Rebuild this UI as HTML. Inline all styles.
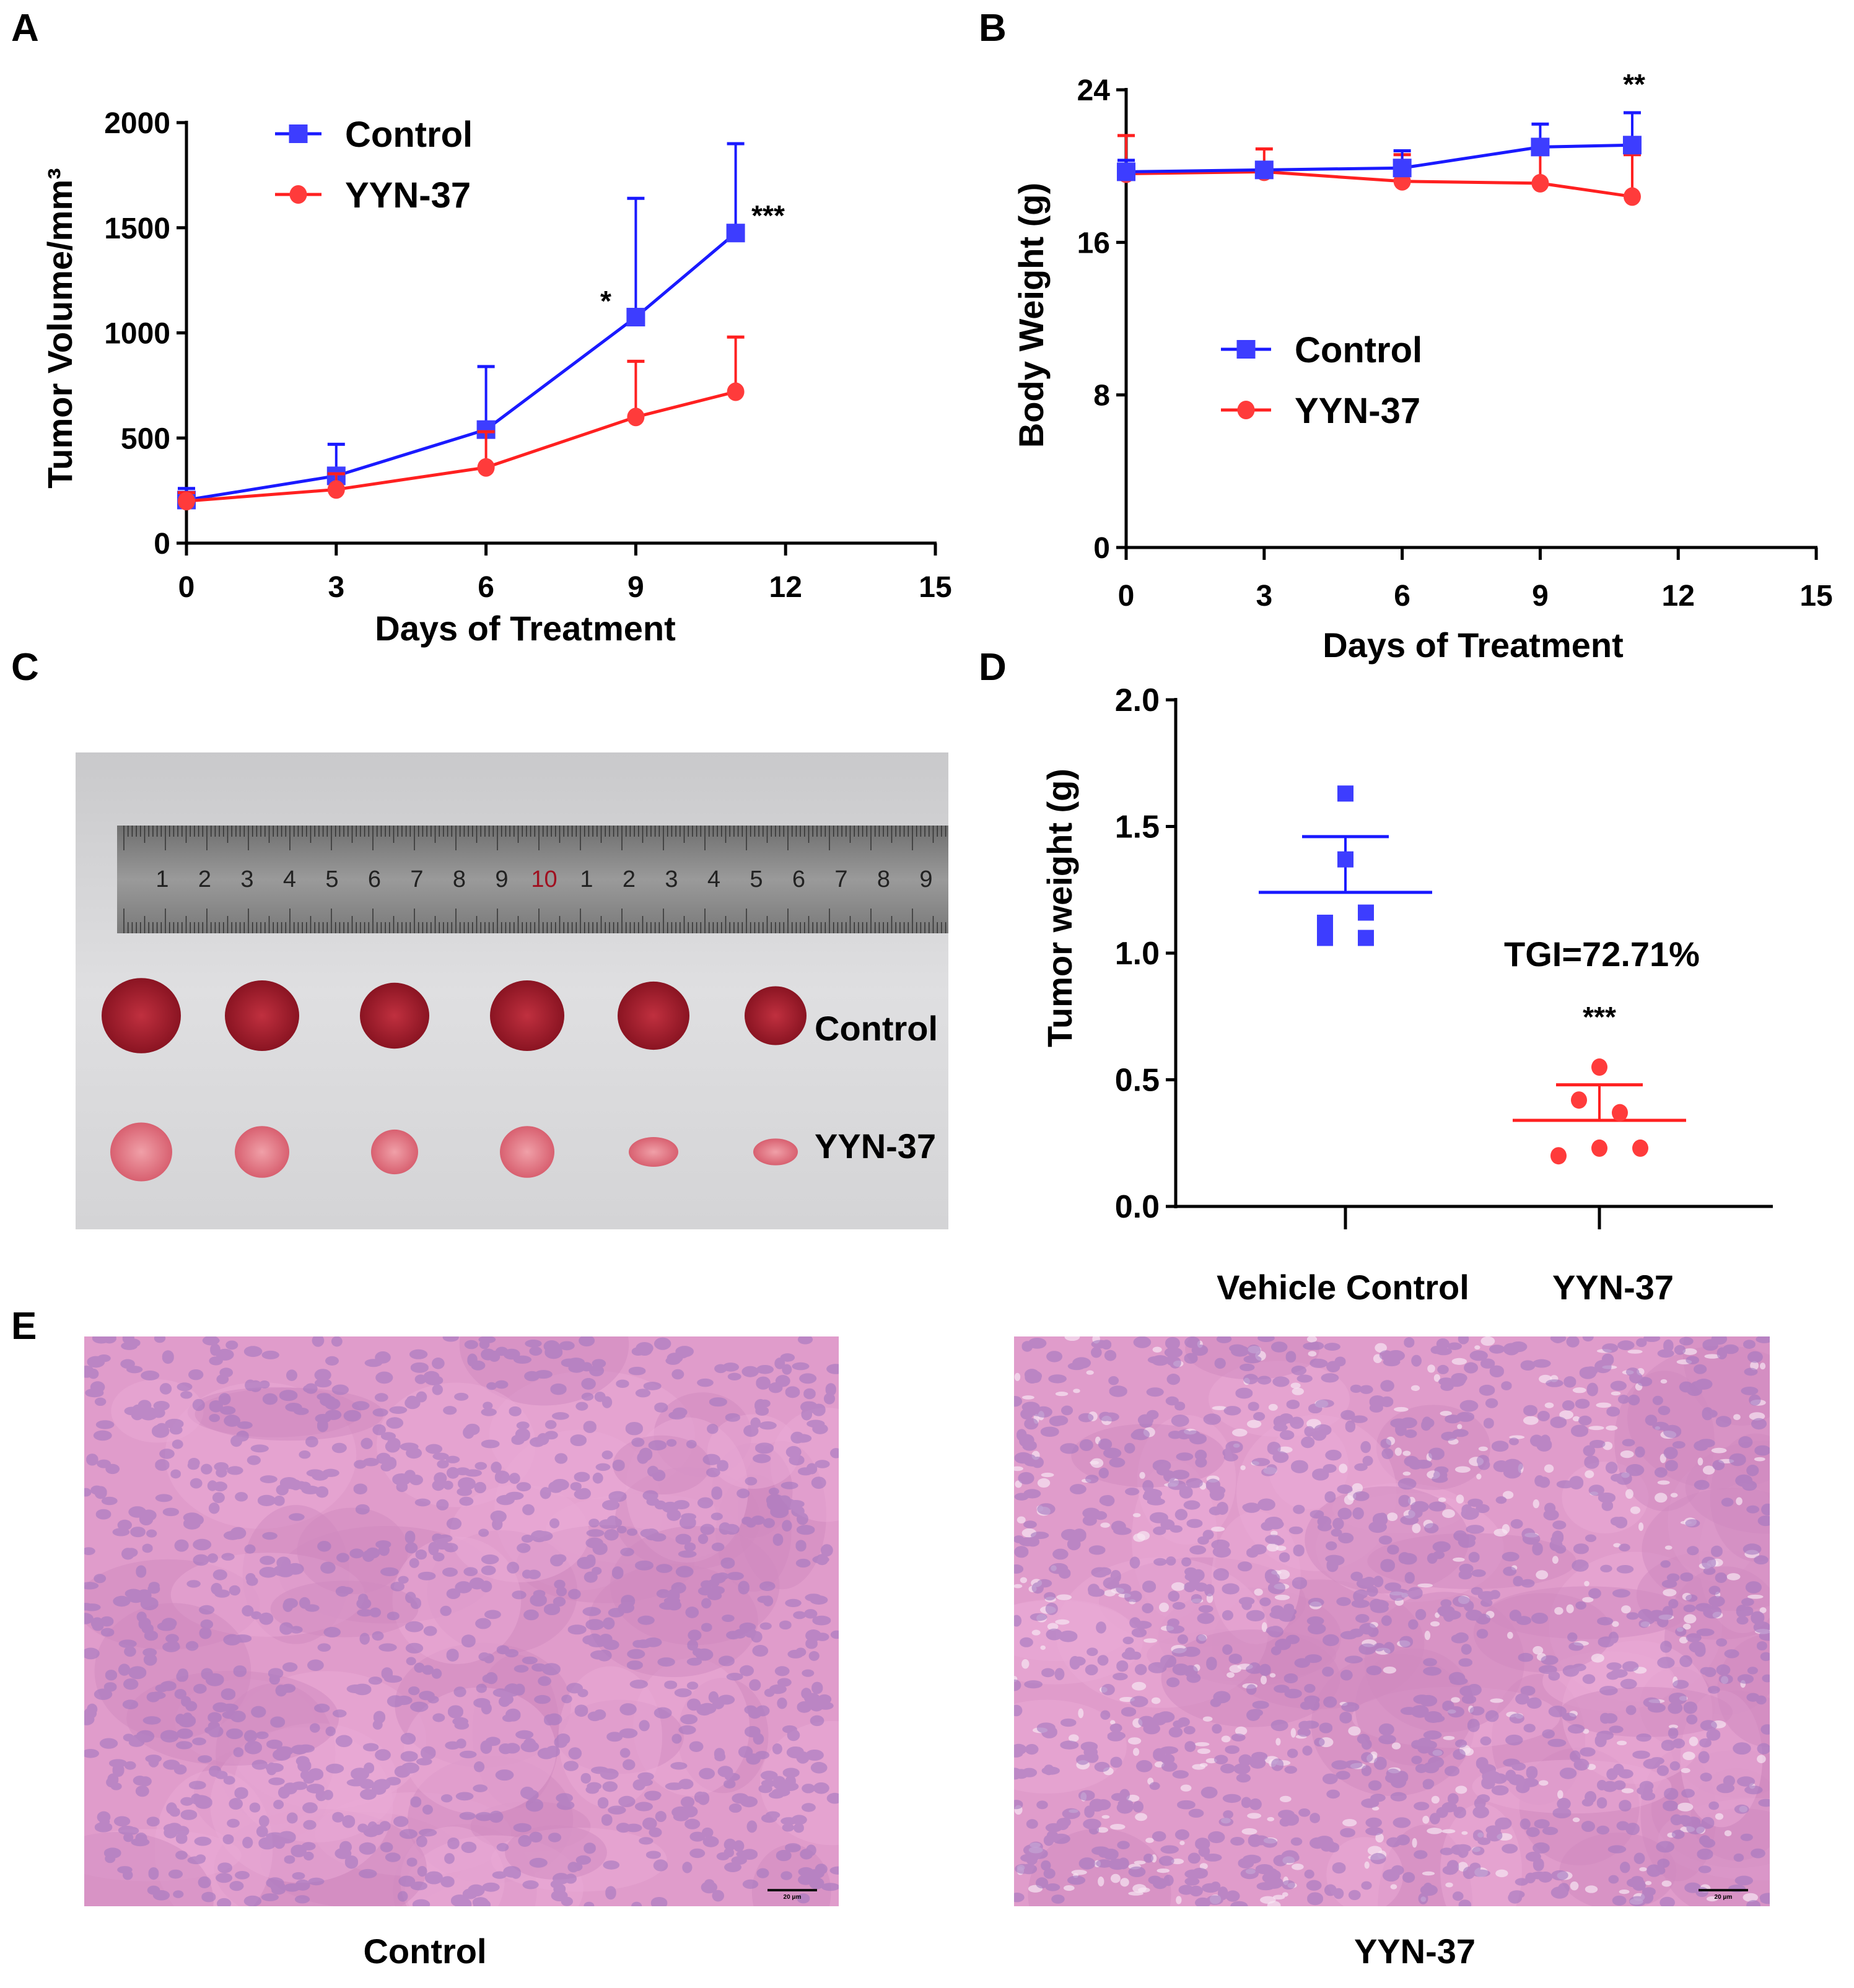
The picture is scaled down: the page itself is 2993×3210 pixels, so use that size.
<!DOCTYPE html>
<html><head><meta charset="utf-8"><style>
html,body{margin:0;padding:0;background:#fff}
svg{display:block}
text{font-family:"Liberation Sans",Arial,sans-serif;font-weight:bold}
</style></head><body>
<svg id="fig" xmlns="http://www.w3.org/2000/svg" width="2993" height="3210" viewBox="0 0 2993 3210">
<defs>
<linearGradient id="photoBg" x1="0" y1="0" x2="0" y2="1"><stop offset="0" stop-color="#c9c9cb"/><stop offset="0.5" stop-color="#dfdfe1"/><stop offset="1" stop-color="#d4d4d6"/></linearGradient>
<linearGradient id="rulerG" x1="0" y1="0" x2="0" y2="1"><stop offset="0" stop-color="#6f6f6f"/><stop offset="0.5" stop-color="#9a9a9a"/><stop offset="1" stop-color="#7a7a7a"/></linearGradient>
<radialGradient id="tumC"><stop offset="0" stop-color="#c0303f"/><stop offset="1" stop-color="#8a1422"/></radialGradient>
<radialGradient id="tumY"><stop offset="0" stop-color="#f0a0a8"/><stop offset="1" stop-color="#d86070"/></radialGradient>
<clipPath id="clipL"><rect x="136" y="2158" width="1218" height="920"/></clipPath>
<clipPath id="clipR"><rect x="1637" y="2158" width="1220" height="920"/></clipPath>
<clipPath id="clipC"><rect x="122" y="1215" width="1409" height="770"/></clipPath>
</defs>
<g id="letters" font-size="62">
<text x="18" y="66">A</text>
<text x="1580" y="66">B</text>
<text x="18" y="1098">C</text>
<text x="1580" y="1098">D</text>
<text x="18" y="2162">E</text>
</g>
<g id="panelA"></g>
<g id="panelB"></g>
<g id="panelC" clip-path="url(#clipC)"></g>
<g id="panelD"></g>
<g id="panelE"></g>
</svg>
<script>
// ---- data ----
const daysA = [0, 3, 6, 9, 11];
const volControl = [205, 320, 540, 1075, 1475];
const volControlErr = [55, 150, 300, 565, 425];
const volYYN = [200, 255, 360, 600, 720];
const volYYNErr = [40, 75, 170, 265, 260];
const volYTicks = [0, 500, 1000, 1500, 2000];
const dayTicks = [0, 3, 6, 9, 12, 15];
const daysB = [0, 3, 6, 9, 11];
const bwControl = [19.7, 19.8, 19.9, 21.0, 21.1];
const bwControlErr = [0.6, 0.3, 0.9, 1.2, 1.7];
const bwYYN = [19.6, 19.7, 19.2, 19.1, 18.4];
const bwYYNErr = [2.0, 1.2, 1.4, 2.0, 2.2];
const bwYTicks = [0, 8, 16, 24];
const twCategories = ["Vehicle Control", "YYN-37"];
const twControl = [1.63, 1.37, 1.16, 1.12, 1.06, 1.06];
const twYYN = [0.55, 0.42, 0.37, 0.23, 0.23, 0.20];
const twMeans = [1.24, 0.34];
const twSEM = [0.22, 0.14];
const twYTicks = [0.0, 0.5, 1.0, 1.5, 2.0];

const NS = "http://www.w3.org/2000/svg";
function mk(parent, tag, attrs, txt) {
  const e = document.createElementNS(NS, tag);
  for (const k in attrs) e.setAttribute(k, attrs[k]);
  if (txt !== undefined) e.textContent = txt;
  parent.appendChild(e);
  return e;
}
const BLUE = "#1a1aff", BLUEM = "#3d3dff", RED = "#ff2020", REDM = "#ff3b3b";
const TICKFS = 48;

// ---- Panel A ----
const A = document.getElementById("panelA");
const xA = d => 301 + d * 80.6;
const yA = v => 877 - v * (679 / 2000);
let el;
el = mk(A, "line", {x1: 301, y1: 195, x2: 301, y2: 880, stroke: "#000", "stroke-width": 5});


el = mk(A, "line", {x1: 298, y1: 877, x2: 1512, y2: 877, stroke: "#000", "stroke-width": 5});


volYTicks.forEach(v => {
  mk(A, "line", {x1: 285, y1: yA(v), x2: 301, y2: yA(v), stroke: "#000", "stroke-width": 5});
  el = mk(A, "text", {x: 275, y: yA(v) + 17, "font-size": TICKFS, "text-anchor": "end"}, v);
  
  
});
dayTicks.forEach(d => {
  mk(A, "line", {x1: xA(d), y1: 877, x2: xA(d), y2: 897, stroke: "#000", "stroke-width": 5});
  el = mk(A, "text", {x: xA(d), y: 964, "font-size": TICKFS, "text-anchor": "middle"}, d);
  
  
});
el = mk(A, "text", {x: 848, y: 1034, "font-size": 56, "text-anchor": "middle"}, "Days of Treatment");


el = mk(A, "text", {x: 0, y: 0, "font-size": 56, "text-anchor": "middle", transform: "translate(116,530) rotate(-90)"}, "Tumor Volume/mm³");



function series(g, xs, ys, errs, xf, yf, color, mcolor, shape, name) {
  const sg = mk(g, "g", {});
  
  
  xs.forEach((d, i) => {
    const x = xf(d), y = yf(ys[i]), yt = yf(ys[i] + errs[i]);
    mk(sg, "line", {x1: x, y1: y, x2: x, y2: yt, stroke: color, "stroke-width": 4});
    mk(sg, "line", {x1: x - 14, y1: yt, x2: x + 14, y2: yt, stroke: color, "stroke-width": 5});
  });
  mk(sg, "polyline", {points: xs.map((d, i) => xf(d) + "," + yf(ys[i])).join(" "), fill: "none", stroke: color, "stroke-width": 5});
  xs.forEach((d, i) => {
    const x = xf(d), y = yf(ys[i]);
    if (shape === "sq") mk(sg, "rect", {x: x - 15, y: y - 15, width: 30, height: 30, fill: mcolor});
    else mk(sg, "ellipse", {cx: x, cy: y, rx: 14, ry: 15, fill: mcolor});
  });
}
series(A, daysA, volControl, volControlErr, xA, yA, BLUE, BLUEM, "sq", "series-control-volume");
series(A, daysA, volYYN, volYYNErr, xA, yA, RED, REDM, "ci", "series-yyn37-volume");
function legend(g, x1, x2, y, color, mcolor, shape, label, name) {
  const lg = mk(g, "g", {});
  
  
  mk(lg, "line", {x1: x1, y1: y, x2: x2, y2: y, stroke: color, "stroke-width": 5});
  const cx = (x1 + x2) / 2;
  if (shape === "sq") mk(lg, "rect", {x: cx - 15, y: y - 15, width: 30, height: 30, fill: mcolor});
  else mk(lg, "ellipse", {cx: cx, cy: y, rx: 14, ry: 15, fill: mcolor});
  mk(lg, "text", {x: x2 + 38, y: y + 21, "font-size": 58}, label);
}
legend(A, 444, 519, 216, BLUE, BLUEM, "sq", "Control", "legend-control-a");
legend(A, 444, 519, 314, RED, REDM, "ci", "YYN-37", "legend-yyn37-a");
el = mk(A, "text", {x: 978, y: 502, "font-size": 46, "text-anchor": "middle"}, "*");


el = mk(A, "text", {x: 1240, y: 364, "font-size": 46, "text-anchor": "middle"}, "***");



// ---- Panel B ----
const B = document.getElementById("panelB");
const xB = d => 1818 + d * 74.27;
const yB = v => 884 - v * (739 / 24);
el = mk(B, "line", {x1: 1818, y1: 142, x2: 1818, y2: 887, stroke: "#000", "stroke-width": 5});


el = mk(B, "line", {x1: 1815, y1: 884, x2: 2934, y2: 884, stroke: "#000", "stroke-width": 5});


bwYTicks.forEach(v => {
  mk(B, "line", {x1: 1802, y1: yB(v), x2: 1818, y2: yB(v), stroke: "#000", "stroke-width": 5});
  el = mk(B, "text", {x: 1792, y: yB(v) + 17, "font-size": TICKFS, "text-anchor": "end"}, v);
  
  
});
dayTicks.forEach(d => {
  mk(B, "line", {x1: xB(d), y1: 884, x2: xB(d), y2: 904, stroke: "#000", "stroke-width": 5});
  el = mk(B, "text", {x: xB(d), y: 978, "font-size": TICKFS, "text-anchor": "middle"}, d);
  
  
});
el = mk(B, "text", {x: 2378, y: 1061, "font-size": 56, "text-anchor": "middle"}, "Days of Treatment");


el = mk(B, "text", {x: 0, y: 0, "font-size": 56, "text-anchor": "middle", transform: "translate(1684,509) rotate(-90)"}, "Body Weight (g)");


series(B, daysB, bwYYN, bwYYNErr, xB, yB, RED, REDM, "ci", "series-yyn37-weight");
series(B, daysB, bwControl, bwControlErr, xB, yB, BLUE, BLUEM, "sq", "series-control-weight");
legend(B, 1971, 2052, 564, BLUE, BLUEM, "sq", "Control", "legend-control-b");
legend(B, 1971, 2052, 662, RED, REDM, "ci", "YYN-37", "legend-yyn37-b");
el = mk(B, "text", {x: 2638, y: 152, "font-size": 46, "text-anchor": "middle"}, "**");



// ---- Panel D ----
const D = document.getElementById("panelD");
const yD = v => 1948 - v * 409;
const catX = [2172, 2582];
el = mk(D, "line", {x1: 1898, y1: 1127, x2: 1898, y2: 1951, stroke: "#000", "stroke-width": 5});


el = mk(D, "line", {x1: 1895, y1: 1948, x2: 2862, y2: 1948, stroke: "#000", "stroke-width": 5});


twYTicks.forEach(v => {
  mk(D, "line", {x1: 1882, y1: yD(v), x2: 1898, y2: yD(v), stroke: "#000", "stroke-width": 5});
  el = mk(D, "text", {x: 1872, y: yD(v) + 18, "font-size": 52, "text-anchor": "end"}, v.toFixed(1));
  
  
});
twCategories.forEach((c, i) => {
  mk(D, "line", {x1: catX[i], y1: 1948, x2: catX[i], y2: 1985, stroke: "#000", "stroke-width": 5});
  el = mk(D, "text", {x: catX[i] + (i ? 22 : -4), y: 2098, "font-size": 56, "text-anchor": "middle"}, c);
  
  
});
el = mk(D, "text", {x: 0, y: 0, "font-size": 56, "text-anchor": "middle", transform: "translate(1730,1466) rotate(-90)"}, "Tumor weight (g)");


const offs = [0, 0, 33, -33, -33, 33];
const offsY = [0, -33, 33, 0, 66, -66];
[[twControl, BLUE, BLUEM, "sq"], [twYYN, RED, REDM, "ci"]].forEach(([vals, col, mcol, sh], i) => {
  const g = mk(D, "g", {});
  
  
  const cx = catX[i];
  const m = twMeans[i], top = twMeans[i] + twSEM[i];
  mk(g, "line", {x1: cx - 140, y1: yD(m), x2: cx + 140, y2: yD(m), stroke: col, "stroke-width": 5});
  mk(g, "line", {x1: cx, y1: yD(m), x2: cx, y2: yD(top), stroke: col, "stroke-width": 4});
  mk(g, "line", {x1: cx - 70, y1: yD(top), x2: cx + 70, y2: yD(top), stroke: col, "stroke-width": 5});
  vals.forEach((v, j) => {
    const x = cx + (i ? offsY[j] : offs[j]);
    if (sh === "sq") mk(g, "rect", {x: x - 13, y: yD(v) - 13, width: 26, height: 26, fill: mcol});
    else mk(g, "ellipse", {cx: x, cy: yD(v), rx: 13, ry: 14, fill: mcol});
  });
});
el = mk(D, "text", {x: 2586, y: 1560, "font-size": 56, "text-anchor": "middle"}, "TGI=72.71%");


el = mk(D, "text", {x: 2582, y: 1658, "font-size": 46, "text-anchor": "middle"}, "***");



// ---- Panel C (photo) ----
const C = document.getElementById("panelC");
el = mk(C, "rect", {x: 122, y: 1215, width: 1409, height: 770, fill: "url(#photoBg)"});


el = mk(C, "rect", {x: 189, y: 1333, width: 1342, height: 174, fill: "url(#rulerG)"});


for (let i = 0; i < 200; i++) {
  const x = 200 + i * 6.7;
  const h = i % 10 === 0 ? 40 : (i % 5 === 0 ? 28 : 18);
  mk(C, "line", {x1: x, y1: 1333, x2: x, y2: 1333 + h, stroke: "#333", "stroke-width": 1.5});
  mk(C, "line", {x1: x, y1: 1507, x2: x, y2: 1507 - h, stroke: "#333", "stroke-width": 1.5});
}
const rulerNums = ["1","2","3","4","5","6","7","8","9","10","1","2","3","4","5","6","7","8","9","2"];
rulerNums.forEach((n, i) => {
  mk(C, "text", {x: 262 + i * 68.5, y: 1432, "font-size": 38, fill: i === 9 ? "#a01020" : "#222", "text-anchor": "middle", style: "font-weight:normal"}, n);
});
const tumCX = [228, 423, 637, 851, 1055, 1252];
const tumCS = [64, 60, 56, 60, 58, 50];
tumCX.forEach((x, i) => {
  el = mk(C, "ellipse", {cx: x, cy: 1640, rx: tumCS[i], ry: tumCS[i] * 0.95, fill: "url(#tumC)"});
  
  
});
const tumYS = [50, 44, 38, 44, 40, 36];
tumCX.forEach((x, i) => {
  el = mk(C, "ellipse", {cx: x, cy: 1860, rx: tumYS[i], ry: tumYS[i] * (i > 3 ? 0.6 : 0.95), fill: "url(#tumY)"});
  
  
});
el = mk(C, "text", {x: 1315, y: 1680, "font-size": 56}, "Control");


el = mk(C, "text", {x: 1315, y: 1870, "font-size": 56}, "YYN-37");



// ---- Panel E (histology texture) ----
const E = document.getElementById("panelE");
let seed = 12345;
function rnd() { seed = (seed * 1103515245 + 12345) % 2147483648; return seed / 2147483648; }
function histo(x0, y0, w, h, clip, white, name) {
  const g = mk(E, "g", {"clip-path": "url(#" + clip + ")"});
  
  
  mk(g, "rect", {x: x0, y: y0, width: w, height: h, fill: "#e09ccb"});
  for (let i = 0; i < 60; i++) {
    mk(g, "ellipse", {cx: x0 + rnd() * w, cy: y0 + rnd() * h, rx: 60 + rnd() * 120, ry: 40 + rnd() * 90, fill: rnd() > 0.5 ? "#eaaad5" : "#d08abf", opacity: 0.5});
  }
  if (white) for (let i = 0; i < 400; i++) {
    mk(g, "ellipse", {cx: x0 + rnd() * w, cy: y0 + rnd() * h, rx: 4 + rnd() * 9, ry: 3 + rnd() * 5, fill: "#f6e6f2", opacity: 0.7});
  }
  let p = "";
  for (let i = 0; i < 1100; i++) {
    const cx = x0 + rnd() * w, cy = y0 + rnd() * h, rx = 8 + rnd() * 7, ry = 6 + rnd() * 4;
    p += `M${(cx - rx).toFixed(1)},${cy.toFixed(1)}a${rx.toFixed(1)},${ry.toFixed(1)} 0 1,0 ${(2 * rx).toFixed(1)},0a${rx.toFixed(1)},${ry.toFixed(1)} 0 1,0 ${(-2 * rx).toFixed(1)},0`;
  }
  mk(g, "path", {d: p, fill: "#a276c0", opacity: 0.6});
  mk(g, "line", {x1: x0 + w - 115, y1: y0 + h - 26, x2: x0 + w - 35, y2: y0 + h - 26, stroke: "#111", "stroke-width": 4});
  mk(g, "text", {x: x0 + w - 75, y: y0 + h - 12, "font-size": 10, "text-anchor": "middle"}, "20 μm");
}
histo(136, 2158, 1218, 920, "clipL", false, "histology-control");
histo(1637, 2158, 1220, 920, "clipR", true, "histology-yyn37");
el = mk(E, "text", {x: 686, y: 3170, "font-size": 56, "text-anchor": "middle"}, "Control");


el = mk(E, "text", {x: 2284, y: 3170, "font-size": 56, "text-anchor": "middle"}, "YYN-37");


</script>
</body></html>
